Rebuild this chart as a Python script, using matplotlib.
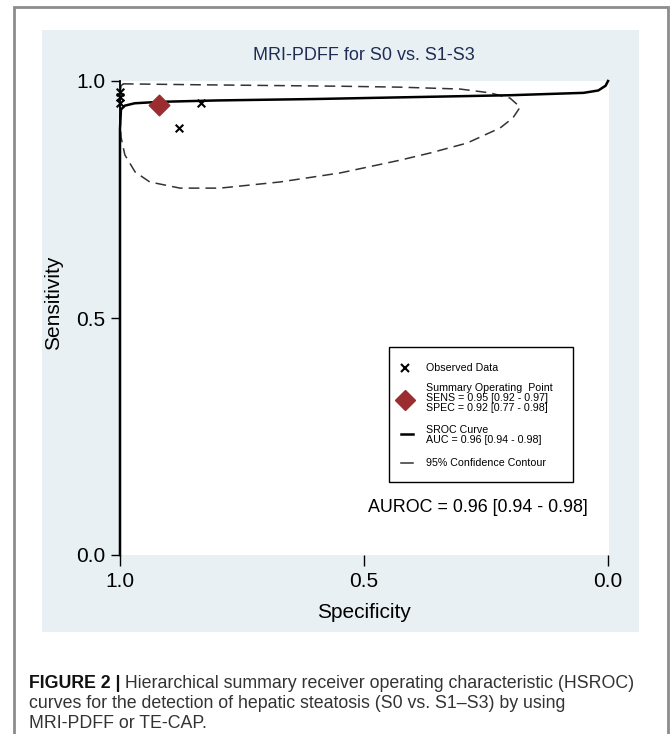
import matplotlib
matplotlib.use("Agg")
import matplotlib.pyplot as plt
from matplotlib.patches import Rectangle
from matplotlib.lines import Line2D

# ---------------- data ----------------
obs_spec = [1.0, 1.0, 1.0, 0.879, 0.834]
obs_sens = [0.977, 0.966, 0.954, 0.900, 0.954]

summary_spec = [0.92]
summary_sens = [0.95]

sroc_spec = [1.0, 1.0, 0.998, 0.99, 0.97, 0.92, 0.80, 0.60, 0.40, 0.20, 0.05, 0.02, 0.005, 0.0]
sroc_sens = [0.0, 0.90, 0.940, 0.948, 0.953, 0.956, 0.959, 0.962, 0.966, 0.970, 0.975, 0.980, 0.990, 1.0]

conf_spec = [0.994, 0.836, 0.549, 0.426, 0.303, 0.242, 0.201, 0.180, 0.195, 0.221, 0.289,
             0.365, 0.426, 0.549, 0.672, 0.795, 0.877, 0.939, 0.969, 0.990, 0.998, 1.0, 1.0, 0.998, 0.994]
conf_sens = [0.994, 0.992, 0.989, 0.987, 0.983, 0.975, 0.964, 0.945, 0.922, 0.901, 0.869,
             0.848, 0.833, 0.806, 0.787, 0.774, 0.774, 0.787, 0.808, 0.844, 0.882, 0.928, 0.970, 0.989, 0.994]

title = "MRI-PDFF for S0 vs. S1-S3"
tick_vals = [0.0, 0.5, 1.0]
tick_labels = ["0.0", "0.5", "1.0"]
legend_lines = ["Observed Data",
                "Summary Operating  Point\nSENS = 0.95 [0.92 - 0.97]\nSPEC = 0.92 [0.77 - 0.98]",
                "SROC Curve\nAUC = 0.96 [0.94 - 0.98]",
                "95% Confidence Contour"]
auroc_text = "AUROC = 0.96 [0.94 - 0.98]"
caption_bold = "FIGURE 2 |"
caption_rest = [" Hierarchical summary receiver operating characteristic (HSROC)",
                "curves for the detection of hepatic steatosis (S0 vs. S1\u2013S3) by using",
                "MRI-PDFF or TE-CAP."]

# ---------------- layout ----------------
W, H = 670, 734
plt.rcParams['font.family'] = ['Liberation Sans', 'DejaVu Sans']
fig = plt.figure(figsize=(W / 100, H / 100), dpi=100)
fig.patch.set_facecolor("white")

def fx(x):
    return x / W

def fy(y):
    return 1 - y / H

# outer frame
fig.add_artist(Rectangle((fx(14), fy(745)), fx(668) - fx(14), fy(7) - fy(745),
                         transform=fig.transFigure, facecolor="white",
                         edgecolor="#8c8c8c", lw=2, zorder=0))
# graph region panel
fig.add_artist(Rectangle((fx(42), fy(632)), fx(639) - fx(42), fy(30) - fy(632),
                         transform=fig.transFigure, facecolor="#e8f0f3",
                         edgecolor="none", zorder=0.5))

AX_L, AX_R, AX_T, AX_B = 120, 609, 81, 555
ax = fig.add_axes([fx(AX_L), fy(AX_B), fx(AX_R) - fx(AX_L), fy(AX_T) - fy(AX_B)])
ax.set_facecolor("white")
ax.set_zorder(1)
ax.set_xlim(1.0, -0.002)
ax.set_ylim(0.0, 1.0)
for s in ["top", "right", "bottom"]:
    ax.spines[s].set_visible(False)
ax.spines["left"].set_linewidth(1.3)
ax.set_xticks(tick_vals)
ax.set_xticklabels(tick_labels)
ax.set_yticks(tick_vals)
ax.set_yticklabels(tick_labels)
ax.tick_params(axis="y", direction="out", length=6.5, width=1.0, labelsize=15,
               colors="black", pad=4)
ax.tick_params(axis="x", direction="out", length=8, width=1.0, labelsize=15,
               colors="black", pad=4)
ax.set_xlabel("Specificity", fontsize=15)
ax.set_ylabel("Sensitivity", fontsize=15)
ax.xaxis.label.set_va("center")
ax.yaxis.label.set_va("center")
ax.xaxis.set_label_coords((364 - AX_L) / (AX_R - AX_L), -(613 - AX_B) / (AX_B - AX_T))
ax.yaxis.set_label_coords(-(AX_L - 54) / (AX_R - AX_L), (AX_B - 303) / (AX_B - AX_T))

# confidence contour
ax.plot(conf_spec, conf_sens, color="#333333", lw=1.1, ls=(0, (7, 4)), clip_on=False, zorder=2)
# SROC curve
ax.plot(sroc_spec, sroc_sens, color="black", lw=1.8, clip_on=False, zorder=3)
# observed data
ax.scatter(obs_spec, obs_sens, marker="x", s=30, color="black", linewidths=1.5,
           clip_on=False, zorder=4)
# summary point
ax.scatter(summary_spec, summary_sens, marker="D", s=110, color="#9b2d30",
           clip_on=False, zorder=5)

# title
fig.text(fx(364), fy(55), title, ha="center", va="center", fontsize=13, color="#1f2d55")

# legend box
fig.add_artist(Rectangle((fx(389), fy(482)), fx(573) - fx(389), fy(347) - fy(482),
                         transform=fig.transFigure, facecolor="white",
                         edgecolor="black", lw=1.0, zorder=6))
lfs = 7.7
fig.add_artist(Line2D([fx(405)], [fy(368)], marker="x", color="black", markersize=6,
                      mew=1.5, ls="none", transform=fig.transFigure, zorder=7))
fig.text(fx(426), fy(368), legend_lines[0], ha="left", va="center", fontsize=lfs, zorder=7)
fig.add_artist(Line2D([fx(405)], [fy(400)], marker="D", color="#9b2d30", markersize=10,
                      ls="none", transform=fig.transFigure, zorder=7))
fig.text(fx(426), fy(398), legend_lines[1], ha="left", va="center", fontsize=lfs,
         linespacing=1.0, zorder=7)
fig.add_artist(Line2D([fx(401), fx(413)], [fy(434), fy(434)], color="black", lw=1.8,
                      transform=fig.transFigure, zorder=7))
fig.text(fx(426), fy(435), legend_lines[2], ha="left", va="center", fontsize=lfs,
         linespacing=1.05, zorder=7)
fig.add_artist(Line2D([fx(401), fx(413)], [fy(463), fy(463)], color="#333333", lw=1.1,
                      transform=fig.transFigure, zorder=7))
fig.text(fx(426), fy(463), legend_lines[3], ha="left", va="center", fontsize=lfs, zorder=7)

# AUROC annotation
fig.text(fx(588), fy(507), auroc_text, ha="right", va="center", fontsize=12.9, zorder=7)

# caption
cap_fs = 12.8
t = fig.text(fx(29), fy(683), caption_bold, ha="left", va="center", fontsize=cap_fs,
             fontweight="bold", color="#111111")
fig.canvas.draw()
bb = t.get_window_extent()
fig.text(bb.x1 / W, fy(683), caption_rest[0], ha="left", va="center", fontsize=cap_fs,
         color="#333333")
fig.text(fx(29), fy(704), caption_rest[1], ha="left", va="center", fontsize=cap_fs,
         color="#333333")
fig.text(fx(29), fy(724), caption_rest[2], ha="left", va="center", fontsize=cap_fs,
         color="#333333")

fig.savefig("out.png", dpi=100, facecolor="white")
